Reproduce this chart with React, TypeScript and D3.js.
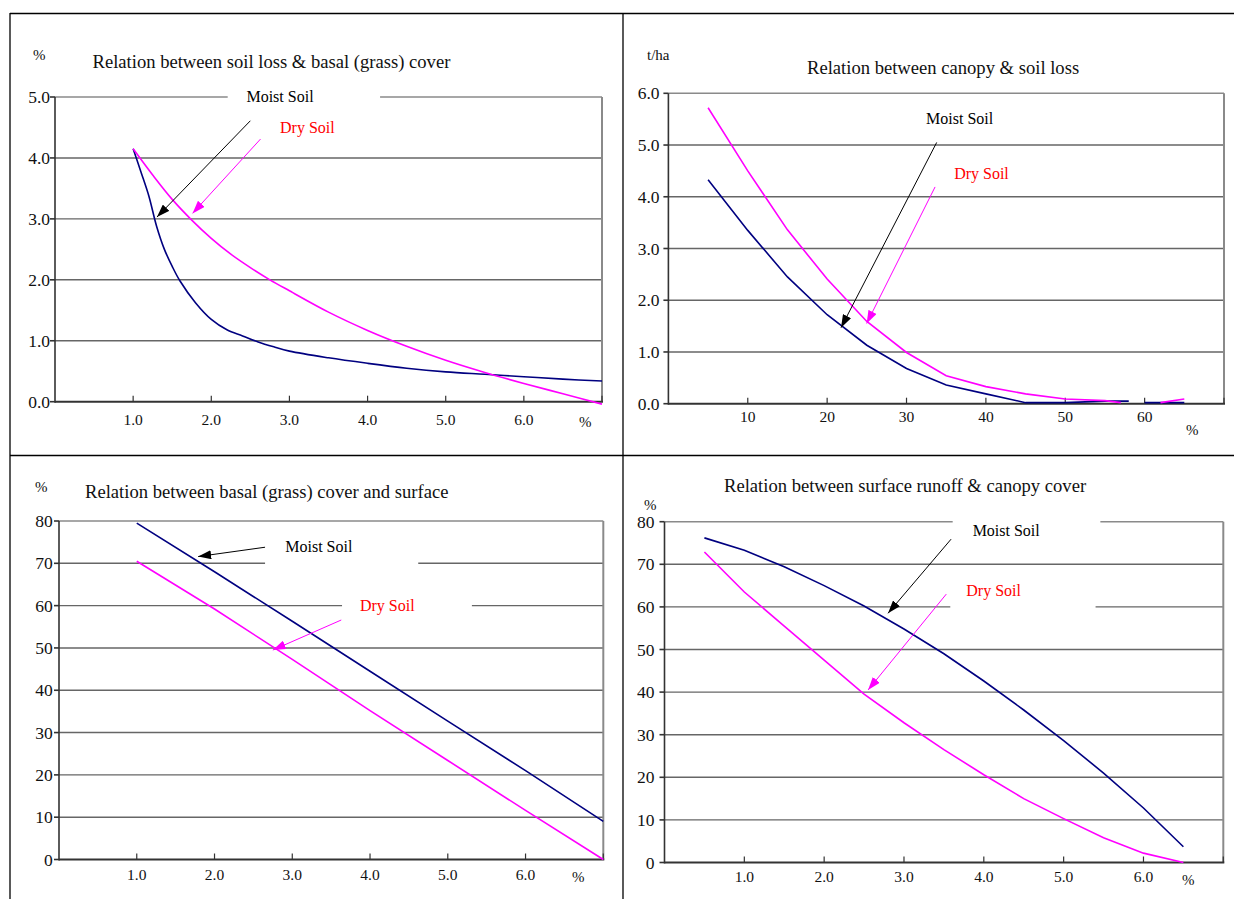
import * as d3 from "d3";

const FONT = "'Liberation Serif', 'Times New Roman', Times, serif";
const NAVY = "#000080";
const MAGENTA = "#ff00ff";
const RED = "#ff0000";

// chart 1: soil loss vs basal (grass) cover
const lossMoistX = [1.0, 1.1, 1.2, 1.3, 1.4, 1.5, 1.6, 1.8, 2.0, 2.2, 2.4, 2.6, 2.8, 3.0, 3.5, 4.0, 4.5, 5.0, 5.5, 6.0, 6.5, 7.0];
const lossMoist = [4.15, 3.77, 3.38, 2.88, 2.5, 2.22, 1.98, 1.62, 1.35, 1.18, 1.08, 0.98, 0.9, 0.83, 0.72, 0.63, 0.55, 0.49, 0.45, 0.41, 0.37, 0.34];
const lossDryX = [1.0, 1.25, 1.5, 1.75, 2.0, 2.25, 2.5, 2.75, 3.0, 3.5, 4.0, 4.5, 5.0, 5.5, 6.0, 6.5, 7.0];
const lossDry = [4.15, 3.72, 3.32, 2.98, 2.68, 2.42, 2.2, 2.0, 1.82, 1.47, 1.17, 0.91, 0.68, 0.48, 0.3, 0.13, -0.04];

// chart 2: canopy vs soil loss (t/ha), null = gap in the line
const canopyMoistX = [5, 10, 15, 20, 25, 30, 35, 40, 45, 50, 55, 58, 59, 60, 65];
const canopyMoist = [4.33, 3.35, 2.45, 1.72, 1.13, 0.68, 0.36, 0.19, 0.02, 0.02, 0.05, 0.05, null, 0.02, 0.02];
const canopyDryX = [5, 10, 15, 20, 25, 30, 35, 40, 45, 50, 55, 57, 60, 62, 65];
const canopyDry = [5.72, 4.5, 3.36, 2.41, 1.59, 0.99, 0.54, 0.33, 0.19, 0.09, 0.06, 0.02, null, 0.02, 0.09];

// chart 3: basal (grass) cover vs surface runoff
const basalX = [1, 2, 3, 4, 5, 6, 7];
const basalMoist = [79.5, 68.0, 56.3, 44.5, 32.7, 21.0, 9.0];
const basalDry = [70.5, 59.2, 47.3, 35.2, 23.4, 11.6, 0];

// chart 4: surface runoff vs canopy cover
const runoffX = [0.5, 1.0, 1.5, 2.0, 2.5, 3.0, 3.5, 4.0, 4.5, 5.0, 5.5, 6.0, 6.5];
const runoffMoist = [76.2, 73.3, 69.4, 65.0, 60.2, 54.8, 49.0, 42.6, 35.8, 28.6, 21.0, 12.8, 3.7];
const runoffDry = [72.9, 63.5, 55.5, 47.5, 39.5, 32.8, 26.5, 20.6, 15.0, 10.3, 5.8, 2.2, 0];

const unitTicks = [1, 2, 3, 4, 5, 6, 7];
const unitLabels = [1, 2, 3, 4, 5, 6];
const canopyTicks = [10, 20, 30, 40, 50, 60, 70];
const canopyLabels = [10, 20, 30, 40, 50, 60];
const lossYTicks = [0, 1, 2, 3, 4, 5];
const canopyYTicks = [0, 1, 2, 3, 4, 5, 6];
const pctYTicks = [0, 10, 20, 30, 40, 50, 60, 70, 80];

type Series = { xs: number[]; ys: (number | null)[]; color: string; curve: any };
type Note = { text: string; x: number; y: number; color: string };
type Arrow = { x1: number; y1: number; x2: number; y2: number; color: string };
type Box = { x0: number; x1: number; y0: number; y1: number };

type PanelProps = {
  left: number; right: number; top: number; bottom: number;
  xDomain: [number, number]; yDomain: [number, number];
  xTicks: number[]; xLabels: number[]; xFmt: (n: number) => string; xLabelY: number;
  yTicks: number[]; yFmt: (n: number) => string; yLabelX: number;
  title: string; titleX: number; titleY: number;
  yUnit: string; yUnitX: number; yUnitY: number;
  xUnitX: number; xUnitY: number;
  series: Series[]; notes: Note[]; arrows: Arrow[]; boxes: Box[];
};

const Panel = (p: PanelProps) => {
  const x = d3.scaleLinear().domain(p.xDomain).range([p.left, p.right]);
  const y = d3.scaleLinear().domain(p.yDomain).range([p.bottom, p.top]);

  return (
    <g>
      {/* grid lines */}
      {p.yTicks.filter((t) => t > p.yDomain[0]).map((t) => (
        <line key={"g" + t} x1={p.left} x2={p.right} y1={y(t)} y2={y(t)}
          stroke={t === p.yDomain[1] ? "#8a8a8a" : "#666"} strokeWidth={1.4} />
      ))}
      {/* white boxes behind the text labels */}
      {p.boxes.map((b, i) => (
        <rect key={"b" + i} x={x(b.x0)} y={y(b.y1)} width={x(b.x1) - x(b.x0)}
          height={y(b.y0) - y(b.y1)} fill="#fff" />
      ))}
      {/* right border */}
      <line x1={p.right} x2={p.right} y1={p.top} y2={p.bottom} stroke="#8a8a8a" strokeWidth={2} />
      {/* axes */}
      <line x1={p.left} x2={p.left} y1={p.top} y2={p.bottom + 1} stroke="#333" strokeWidth={1.6} />
      <line x1={p.left} x2={p.right + 1} y1={p.bottom} y2={p.bottom} stroke="#333" strokeWidth={2} />
      {p.yTicks.map((t) => (
        <line key={"yt" + t} x1={p.left - 5} x2={p.left} y1={y(t)} y2={y(t)} stroke="#333" strokeWidth={1.6} />
      ))}
      {p.xTicks.map((t) => (
        <line key={"xt" + t} x1={x(t)} x2={x(t)} y1={p.bottom} y2={p.bottom - 6} stroke="#333" strokeWidth={1.2} />
      ))}
      {/* tick labels */}
      {p.yTicks.map((t) => (
        <text key={"yl" + t} x={p.yLabelX} y={y(t) + 6} textAnchor="end" fontSize={17.5} fontFamily={FONT} fill="#111">
          {p.yFmt(t)}
        </text>
      ))}
      {p.xLabels.map((t) => (
        <text key={"xl" + t} x={x(t)} y={p.xLabelY} textAnchor="middle" fontSize={15.5} fontFamily={FONT} fill="#111">
          {p.xFmt(t)}
        </text>
      ))}
      <text x={p.xUnitX} y={p.xUnitY} fontSize={15} fontFamily={FONT} fill="#111">%</text>
      <text x={p.yUnitX} y={p.yUnitY} fontSize={15} fontFamily={FONT} fill="#111">{p.yUnit}</text>
      <text x={p.titleX} y={p.titleY} fontSize={18.6} fontFamily={FONT} fill="#111">{p.title}</text>
      {/* data lines */}
      {p.series.map((s, i) => {
        const pts = s.xs.map((v, j) => [v, s.ys[j]] as [number, number | null]);
        const gen = d3.line<[number, number | null]>()
          .defined((d) => d[1] !== null)
          .x((d) => x(d[0]))
          .y((d) => y(d[1] as number))
          .curve(s.curve);
        return <path key={"s" + i} d={gen(pts) || ""} fill="none" stroke={s.color} strokeWidth={1.6} />;
      })}
      {/* annotation arrows */}
      {p.arrows.map((a, i) => (
        <line key={"a" + i} x1={x(a.x1)} y1={y(a.y1)} x2={x(a.x2)} y2={y(a.y2)}
          stroke={a.color} strokeWidth={1}
          markerEnd={`url(#head-${a.color === MAGENTA ? "m" : "k"})`} />
      ))}
      {p.notes.map((n, i) => (
        <text key={"n" + i} x={x(n.x)} y={y(n.y)} fontSize={16} fontFamily={FONT} fill={n.color}>{n.text}</text>
      ))}
    </g>
  );
};

const f1 = d3.format(".1f");
const f0 = d3.format("d");

export default function App() {
  return (
    <svg width={1234} height={899} style={{ position: "absolute", left: 0, top: 0, background: "#fff" }}>
      <defs>
        <marker id="head-k" viewBox="0 0 13 9" refX={13} refY={4.5} markerWidth={13} markerHeight={9}
          markerUnits="userSpaceOnUse" orient="auto">
          <path d="M0,0 L13,4.5 L0,9 Z" fill="#000" />
        </marker>
        <marker id="head-m" viewBox="0 0 13 9" refX={13} refY={4.5} markerWidth={13} markerHeight={9}
          markerUnits="userSpaceOnUse" orient="auto">
          <path d="M0,0 L13,4.5 L0,9 Z" fill={MAGENTA} />
        </marker>
      </defs>

      {/* table frame */}
      <g stroke="#000" strokeWidth={1.3}>
        <line x1={10} x2={1234} y1={13.5} y2={13.5} />
        <line x1={10} x2={1234} y1={455.5} y2={455.5} />
        <line x1={10} x2={10} y1={13} y2={899} />
        <line x1={623} x2={623} y1={13} y2={899} />
      </g>

      <Panel left={55} right={602} top={97} bottom={401.7}
        xDomain={[0, 7]} yDomain={[0, 5]}
        xTicks={unitTicks} xLabels={unitLabels} xFmt={f1} xLabelY={425}
        yTicks={lossYTicks} yFmt={f1} yLabelX={50}
        title="Relation between soil loss & basal (grass) cover" titleX={92.5} titleY={68}
        yUnit="%" yUnitX={33} yUnitY={60} xUnitX={579} xUnitY={427}
        series={[
          { xs: lossMoistX, ys: lossMoist, color: NAVY, curve: d3.curveCatmullRom },
          { xs: lossDryX, ys: lossDry, color: MAGENTA, curve: d3.curveCatmullRom },
        ]}
        notes={[
          { text: "Moist Soil", x: 2.45, y: 4.92, color: "#000" },
          { text: "Dry Soil", x: 2.88, y: 4.41, color: RED },
        ]}
        boxes={[{ x0: 2.21, x1: 4.16, y0: 4.75, y1: 5.1 }]}
        arrows={[
          { x1: 2.5, y1: 4.61, x2: 1.305, y2: 3.03, color: "#000" },
          { x1: 2.63, y1: 4.31, x2: 1.76, y2: 3.09, color: MAGENTA },
        ]}
      />

      <Panel left={668.4} right={1224} top={93.3} bottom={403.7}
        xDomain={[0, 70]} yDomain={[0, 6]}
        xTicks={canopyTicks} xLabels={canopyLabels} xFmt={f0} xLabelY={421.7}
        yTicks={canopyYTicks} yFmt={f1} yLabelX={659.5}
        title="Relation between canopy & soil loss" titleX={807} titleY={74}
        yUnit="t/ha" yUnitX={647} yUnitY={60} xUnitX={1186} xUnitY={435}
        series={[
          { xs: canopyMoistX, ys: canopyMoist, color: NAVY, curve: d3.curveLinear },
          { xs: canopyDryX, ys: canopyDry, color: MAGENTA, curve: d3.curveLinear },
        ]}
        notes={[
          { text: "Moist Soil", x: 32.46, y: 5.41, color: "#000" },
          { text: "Dry Soil", x: 36.0, y: 4.34, color: RED },
        ]}
        boxes={[]}
        arrows={[
          { x1: 33.8, y1: 5.05, x2: 21.75, y2: 1.47, color: "#000" },
          { x1: 33.6, y1: 4.19, x2: 24.98, y2: 1.55, color: MAGENTA },
        ]}
      />

      <Panel left={59} right={603.3} top={521} bottom={859.5}
        xDomain={[0, 7]} yDomain={[0, 80]}
        xTicks={unitTicks} xLabels={unitLabels} xFmt={f1} xLabelY={879.5}
        yTicks={pctYTicks} yFmt={f0} yLabelX={52.7}
        title="Relation between basal (grass) cover and surface" titleX={85} titleY={498}
        yUnit="%" yUnitX={35} yUnitY={491.5} xUnitX={572} xUnitY={882}
        series={[
          { xs: basalX, ys: basalMoist, color: NAVY, curve: d3.curveLinear },
          { xs: basalX, ys: basalDry, color: MAGENTA, curve: d3.curveLinear },
        ]}
        notes={[
          { text: "Moist Soil", x: 2.91, y: 72.7, color: "#000" },
          { text: "Dry Soil", x: 3.87, y: 58.7, color: RED },
        ]}
        boxes={[
          { x0: 2.65, x1: 4.62, y0: 69.1, y1: 77.9 },
          { x0: 3.64, x1: 5.31, y0: 58.2, y1: 63.2 },
        ]}
        arrows={[
          { x1: 2.65, y1: 73.8, x2: 1.79, y2: 71.6, color: "#000" },
          { x1: 3.63, y1: 56.6, x2: 2.75, y2: 49.5, color: MAGENTA },
        ]}
      />

      <Panel left={664.5} right={1223.3} top={521.7} bottom={862.5}
        xDomain={[0, 7]} yDomain={[0, 80]}
        xTicks={unitTicks} xLabels={unitLabels} xFmt={f1} xLabelY={881.7}
        yTicks={pctYTicks} yFmt={f0} yLabelX={654.5}
        title="Relation between surface runoff & canopy cover" titleX={724} titleY={491.5}
        yUnit="%" yUnitX={644} yUnitY={510} xUnitX={1182} xUnitY={885}
        series={[
          { xs: runoffX, ys: runoffMoist, color: NAVY, curve: d3.curveLinear },
          { xs: runoffX, ys: runoffDry, color: MAGENTA, curve: d3.curveLinear },
        ]}
        notes={[
          { text: "Moist Soil", x: 3.86, y: 76.6, color: "#000" },
          { text: "Dry Soil", x: 3.78, y: 62.6, color: RED },
        ]}
        boxes={[
          { x0: 3.61, x1: 5.46, y0: 74.7, y1: 81.8 },
          { x0: 3.58, x1: 5.4, y0: 58.2, y1: 65.5 },
        ]}
        arrows={[
          { x1: 3.59, y1: 75.9, x2: 2.8, y2: 58.5, color: "#000" },
          { x1: 3.53, y1: 63.0, x2: 2.55, y2: 40.5, color: MAGENTA },
        ]}
      />
    </svg>
  );
}
